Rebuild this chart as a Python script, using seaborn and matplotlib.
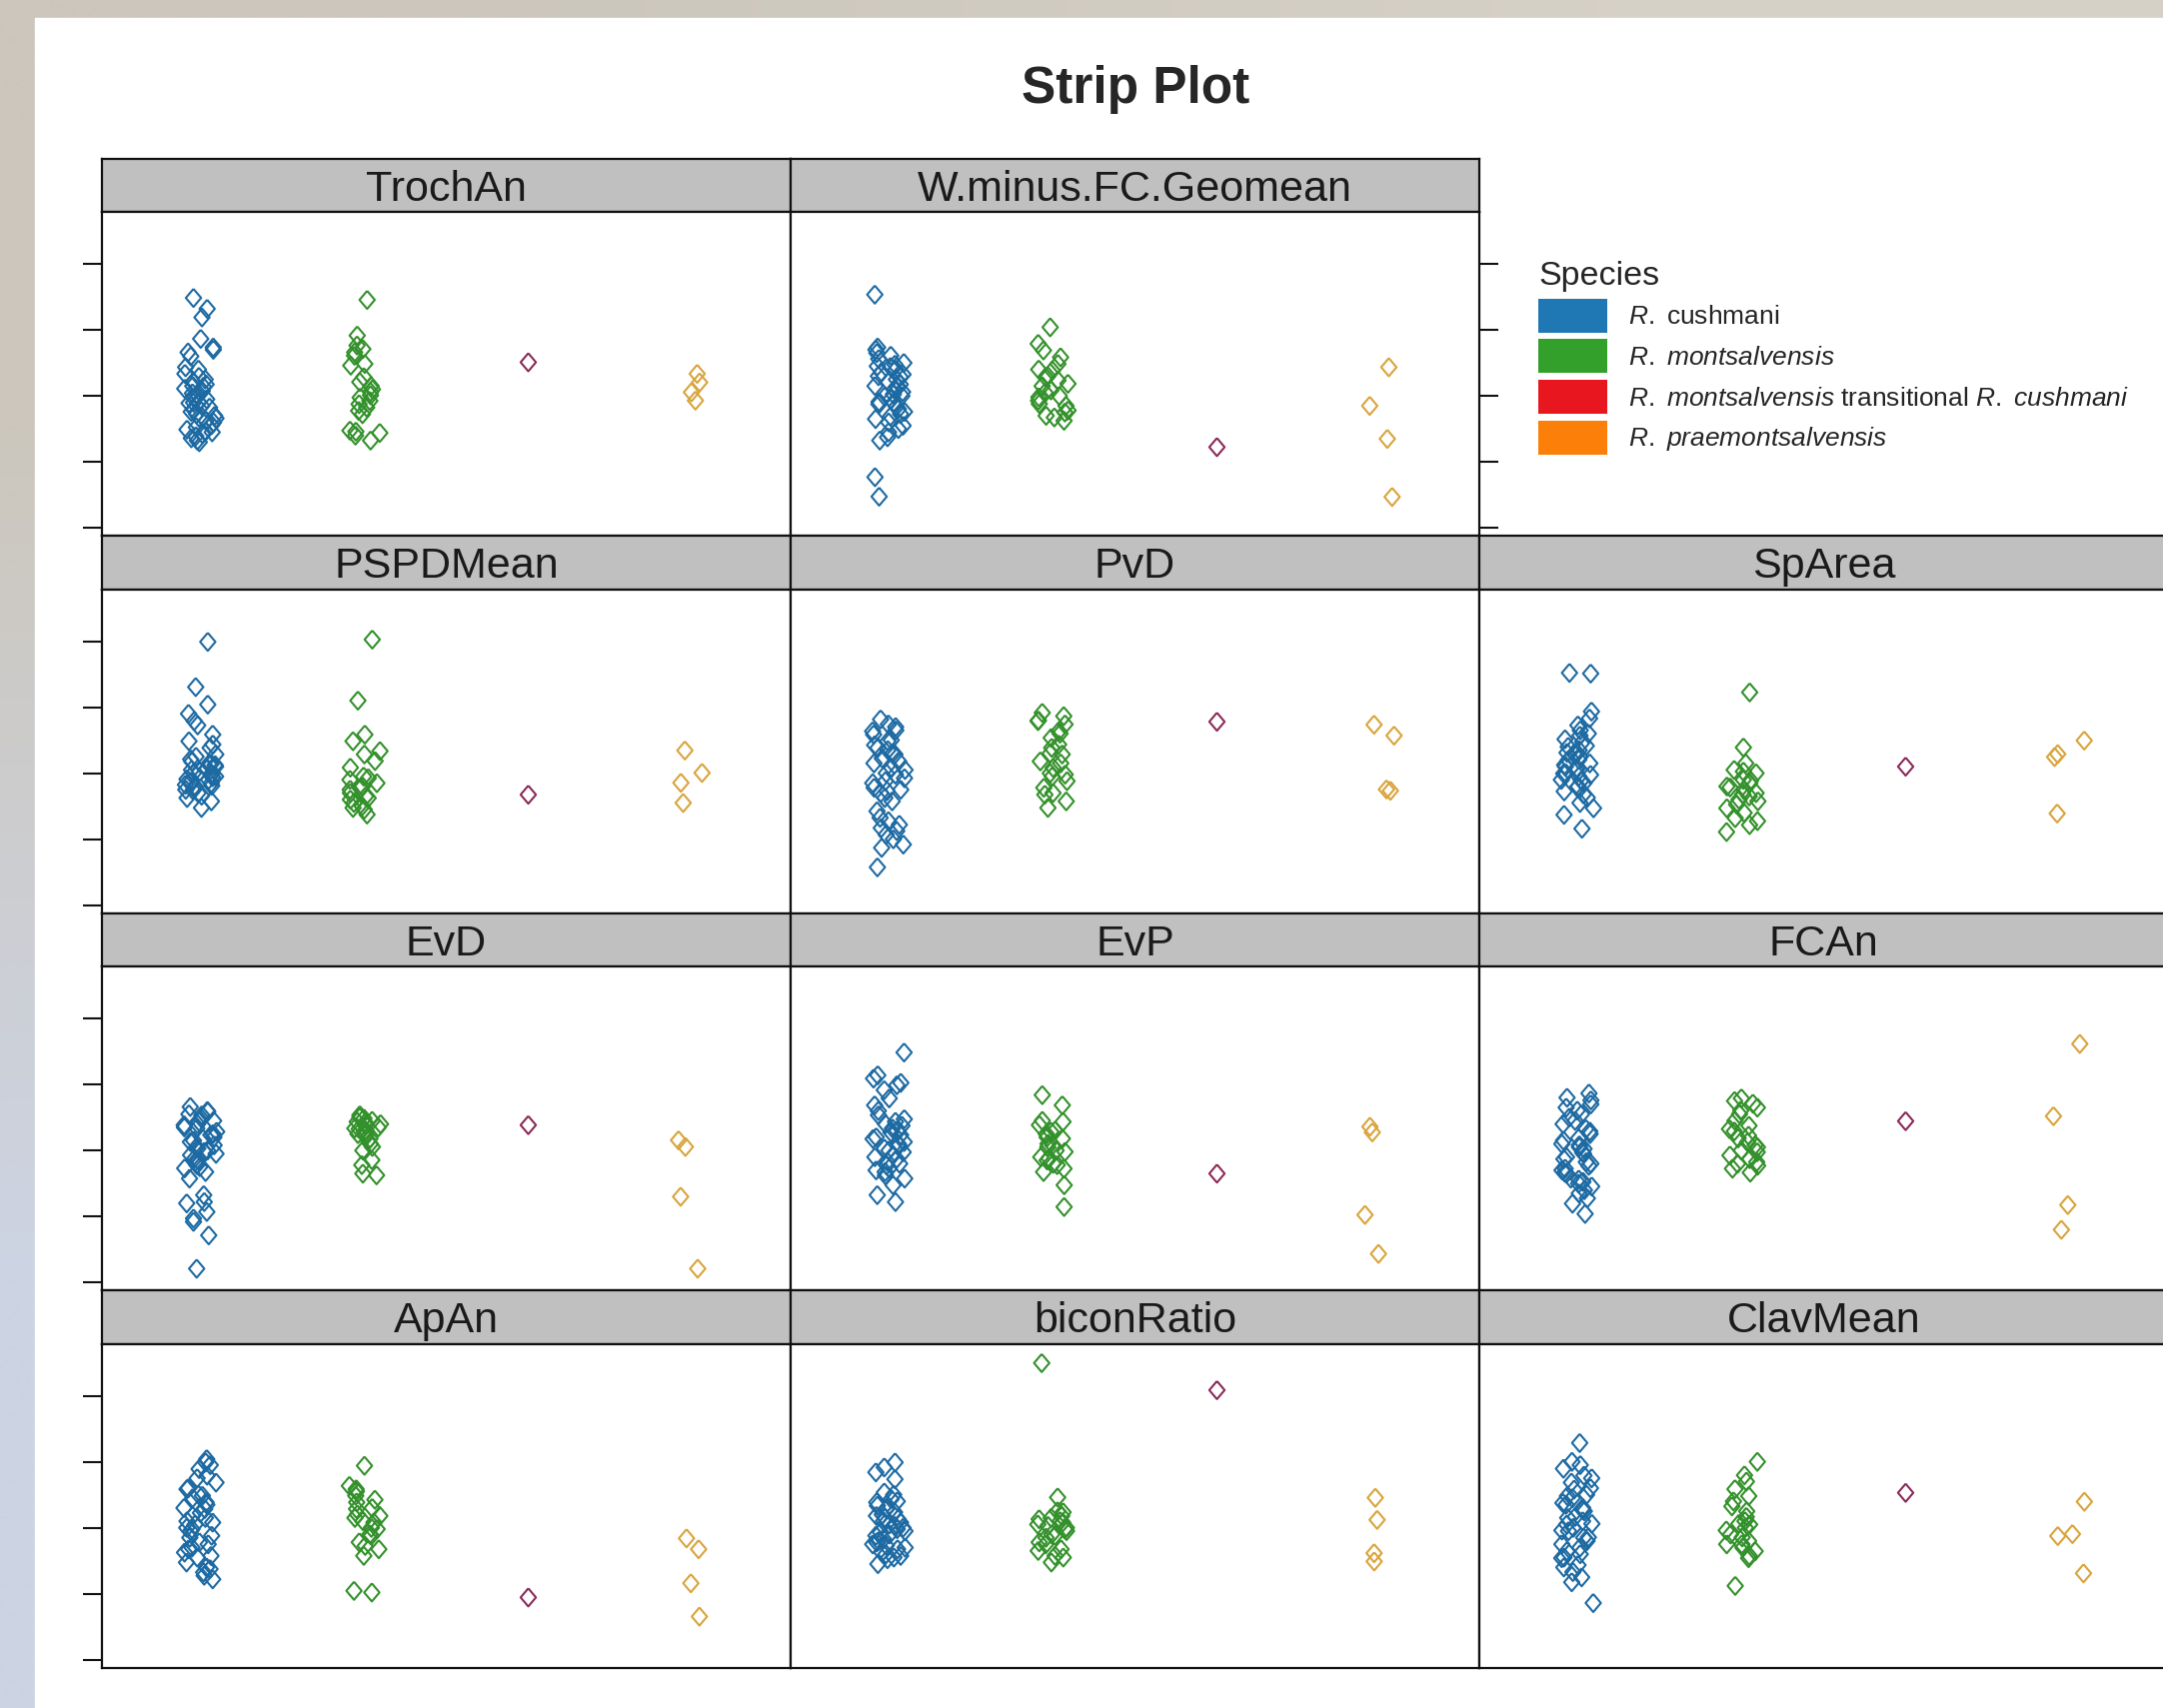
import numpy as np
import pandas as pd
import matplotlib
matplotlib.use("Agg")
import matplotlib.pyplot as plt
from matplotlib.patches import Patch, Rectangle
import seaborn as sns

# species (x groups) and legend text
species = ["R. cushmani", "R. montsalvensis",
           "R. montsalvensis transitional R. cushmani", "R. praemontsalvensis"]
legend_labels = [r"$\mathit{R.}$ cushmani",
                 r"$\mathit{R.\ montsalvensis}$",
                 r"$\mathit{R.\ montsalvensis}$ transitional $\mathit{R.\ cushmani}$",
                 r"$\mathit{R.\ praemontsalvensis}$"]

# panel layout (top to bottom, like the lattice output)
layout = [["TrochAn", "W.minus.FC.Geomean", None],
          ["PSPDMean", "PvD", "SpArea"],
          ["EvD", "EvP", "FCAn"],
          ["ApAn", "biconRatio", "ClavMean"]]

# values (standardised units)
trochan_cush = [2.38, 2.64, 2.97, 1.73, 1.47, 1.40, 1.32, 1.20, 0.87, 0.80, 0.67, 0.58, 0.50,
                0.42, 0.35, 0.28, 0.22, 0.15, 0.08, 0.02, -0.05, -0.10, -0.18, -0.22, -0.30,
                -0.35, -0.42, -0.48, -0.55, -0.60, -0.68, -0.75, -0.80, -0.88, -0.95, -1.02,
                -1.08, -1.15, -1.22, -1.28, -1.35, -1.40, 0.30, -0.20, -0.65, -1.10]
trochan_mont = [2.91, 1.83, 1.53, 1.42, 1.32, 1.22, 0.97, 0.92, 0.57, 0.42, 0.30, 0.20, 0.12,
                0.02, -0.05, -0.15, -0.25, -0.35, -0.45, -0.55, -1.05, -1.08, -1.12, -1.20, -1.35]
trochan_trans = [1.02]
trochan_prae = [0.67, 0.41, 0.11, -0.14]

wminus_cush = [3.07, -2.46, -3.05, 1.47, 1.40, 1.30, 1.22, 1.12, 1.00, 0.95, 0.88, 0.80, 0.72,
               0.65, 0.58, 0.50, 0.42, 0.35, 0.28, 0.20, 0.12, 0.05, -0.02, -0.10, -0.18, -0.25,
               -0.32, -0.40, -0.48, -0.55, -0.62, -0.70, -0.80, -0.90, -1.00, -1.10, -1.25,
               -1.35, 0.60, 0.30, 0.00, -0.20, 0.90]
wminus_mont = [2.08, 1.58, 1.38, 1.17, 0.97, 0.77, 0.57, 0.47, 0.37, 0.17, -0.04, -0.14, -0.24,
               -0.44, -0.65, -0.75, 0.30, 0.10, 0.00, -0.30, 0.60, 0.80, -0.50, -0.60]
wminus_trans = [-1.55]
wminus_prae = [0.87, -0.30, -1.30, -3.06]

pspd_cush = [3.98, 2.61, 2.08, 1.80, 1.58, 1.45, 1.17, 0.97, 0.87, 0.77, 0.57, 0.50, 0.42, 0.35,
             0.28, 0.20, 0.12, 0.05, 0.00, -0.05, -0.12, -0.18, -0.25, -0.30, -0.38, -0.45,
             -0.52, -0.60, -0.68, -0.75, -0.85, -1.05, 0.30, 0.10, -0.10, -0.20, -0.40, 0.25,
             0.15, -0.02, -0.35, -0.50]
pspd_mont = [4.05, 2.20, 1.17, 0.97, 0.67, 0.57, 0.37, 0.17, -0.10, -0.20, -0.30, -0.40, -0.50,
             -0.60, -0.70, -0.80, -0.90, -1.00, -1.10, -1.25, -0.15, -0.45, -0.75, -1.05]
pspd_trans = [-0.65]
pspd_prae = [0.69, 0.01, -0.29, -0.90]

pvd_cush = [1.63, 1.48, 1.27, 1.17, 0.97, 0.77, 0.57, 0.36, 0.16, -0.04, -0.24, -0.44, -0.54,
            -0.75, -0.85, -1.15, -1.35, -1.56, -1.66, -1.86, -2.16, -2.26, -2.85, 1.40, 1.00,
            0.60, 0.30, 0.00, -0.30, -0.60, 1.30, 0.85, 0.45, 0.10, -0.15, -1.45, -1.75, -2.00,
            0.70, -0.50]
pvd_mont = [1.83, 1.73, 1.58, 1.48, 1.27, 1.07, 0.87, 0.77, 0.57, 0.36, 0.16, -0.04, -0.24,
            -0.44, -0.65, -0.85, -1.05, 1.60, 1.20, 0.60, 0.30, -0.10, -0.60, 0.00]
pvd_trans = [1.56]
pvd_prae = [1.47, 1.14, -0.49, -0.53]

sparea_cush = [3.02, 3.04, 1.87, 1.66, 1.45, 1.14, 1.03, 0.83, 0.62, 0.41, 0.20, -0.01, -0.22,
               -0.43, -0.64, -0.74, -1.06, -1.26, -1.68, 1.30, 0.95, 0.70, 0.50, 0.30, 0.10,
               -0.10, -0.30, -0.55, 0.55, 0.25, 0.00, -0.20, 0.80, 0.40, -0.40, -0.90, 1.20,
               0.15, -0.05, 0.60]
sparea_mont = [2.45, 0.78, 0.30, 0.10, 0.00, -0.22, -0.43, -0.64, -0.85, -1.06, -1.36, -1.57,
               -1.78, -0.30, -0.50, -0.70, -0.20, -0.60, -0.95, -1.20, -0.40, 0.05, -0.80, -1.45]
sparea_trans = [0.20]
sparea_prae = [0.99, 0.58, 0.49, -1.22]

evd_cush = [1.32, 1.17, 1.07, 0.97, 0.87, 0.77, 0.67, 0.57, 0.47, 0.36, 0.26, 0.16, 0.06, -0.04,
            -0.14, -0.24, -0.34, -0.44, -0.54, -0.65, -0.85, -1.35, -1.56, -1.86, -2.06, -2.16,
            -2.57, -3.58, 1.10, 0.90, 0.70, 0.50, 0.30, 0.10, -0.10, -0.30, 1.20, 0.80, 0.40,
            0.00, -0.50, -1.60]
evd_mont = [1.07, 0.97, 0.87, 0.77, 0.67, 0.57, 0.47, 0.36, 0.11, -0.29, -0.44, -0.70, -0.75,
            1.00, 0.90, 0.80, 0.70, 0.60, 0.50, 0.30, 0.20, 0.85, 0.65, 0.00]
evd_trans = [0.77]
evd_prae = [0.31, 0.11, -1.40, -3.58]

evp_cush = [2.97, 2.28, 2.18, 1.98, 1.83, 1.58, 1.37, 1.07, 0.87, 0.67, 0.47, 0.26, 0.06, -0.14,
            -0.34, -0.54, -0.75, -0.85, -1.05, -1.35, -1.56, 0.95, 0.75, 0.55, 0.35, 0.15,
            -0.05, -0.25, -0.45, -0.65, 0.60, 0.40, 0.20, 0.00, -0.20, -0.40, 0.80, -0.60,
            1.20, 2.05]
evp_mont = [1.68, 1.37, 0.87, 0.77, 0.57, 0.36, 0.16, -0.04, -0.24, -0.44, -0.65, -1.05, -1.71,
            0.60, 0.40, 0.20, 0.00, -0.20, -0.40, 0.50, 0.10, -0.30, -0.55, 0.90]
evp_trans = [-0.70]
evp_prae = [0.55, 0.72, -1.95, -3.13]

fcan_cush = [1.73, 1.52, 1.21, 0.90, 0.58, 0.37, 0.16, -0.05, -0.26, -0.46, -0.67, -0.88, -1.09,
             -1.30, -1.61, -1.92, 1.40, 1.10, 0.80, 0.50, 0.20, -0.10, -0.40, -0.70, -1.00,
             -1.20, 1.60, 1.00, 0.30, -0.20, -0.55, -0.85, 0.65, 0.05, -0.35, -0.95, -1.45,
             1.30, 0.10, -0.60]
fcan_mont = [1.58, 1.42, 1.21, 0.90, 0.58, 0.37, 0.16, -0.05, -0.26, -0.46, -0.67, 1.50, 1.10,
             0.75, 0.45, 0.25, 0.00, -0.15, -0.35, -0.55, 1.30, 0.65, 0.10, -0.40]
fcan_trans = [0.89]
fcan_prae = [3.23, 1.04, -1.65, -2.40]

apan_cush = [2.08, 1.98, 1.78, 1.58, 1.37, 1.17, 0.97, 0.77, 0.57, 0.36, 0.16, -0.04, -0.24,
             -0.44, -0.65, -0.85, -1.05, -1.25, -1.35, -1.56, 1.90, 1.50, 1.20, 0.90, 0.60,
             0.30, 0.00, -0.30, -0.60, -0.90, -1.20, 1.00, 0.45, 0.20, 0.10, -0.10, -0.50,
             -0.75, -1.45, 0.70]
apan_mont = [1.88, 1.27, 1.17, 0.97, 0.77, 0.57, 0.36, 0.16, -0.04, -0.24, -0.44, -0.65, -0.85,
             -1.91, -1.96, 1.10, 0.85, 0.60, 0.40, 0.20, 0.00, -0.20, -0.55, 0.30]
apan_trans = [-2.11]
apan_prae = [-0.32, -0.65, -1.68, -2.69]

bicon_cush = [1.98, 1.83, 1.68, 1.47, 1.07, 0.87, 0.77, 0.67, 0.57, 0.47, 0.36, 0.26, 0.16,
              0.06, -0.04, -0.14, -0.24, -0.34, -0.44, -0.54, -0.65, -0.75, -0.85, -0.95,
              -1.10, 1.00, 0.60, 0.20, -0.20, -0.60, 0.80, 0.40, 0.00, -0.40, -0.80, 0.30,
              -0.10, -0.50, -0.90, 0.10]
bicon_mont = [4.99, 0.92, 0.47, 0.36, 0.26, 0.16, 0.06, -0.04, -0.24, -0.44, -0.65, -0.85,
              -1.05, 0.50, 0.30, 0.10, -0.10, -0.30, -0.50, -0.70, 0.20, 0.00, -0.20, -0.90]
bicon_trans = [4.17]
bicon_prae = [0.91, 0.24, -0.77, -1.02]

clav_cush = [2.57, 2.00, 1.79, 1.58, 1.37, 1.16, 0.96, 0.75, 0.54, 0.33, 0.12, -0.08, -0.29,
             -0.50, -0.71, -0.92, -1.13, -1.34, -1.65, -2.28, 1.90, 1.50, 1.20, 0.90, 0.60,
             0.30, 0.00, -0.30, -0.60, -0.90, -1.20, 1.00, 0.50, 0.20, -0.10, -0.40, -0.80,
             0.70, 0.10, -1.50]
clav_mont = [2.00, 1.59, 1.17, 0.96, 0.65, 0.33, 0.12, -0.08, -0.29, -0.50, -0.71, -0.92, -1.76,
             1.40, 0.80, 0.50, 0.20, 0.00, -0.20, -0.40, -0.60, 0.10, -0.50, -0.85]
clav_trans = [1.06]
clav_prae = [0.79, -0.19, -0.25, -1.38]

groups = {
    "TrochAn": (trochan_cush, trochan_mont, trochan_trans, trochan_prae),
    "W.minus.FC.Geomean": (wminus_cush, wminus_mont, wminus_trans, wminus_prae),
    "PSPDMean": (pspd_cush, pspd_mont, pspd_trans, pspd_prae),
    "PvD": (pvd_cush, pvd_mont, pvd_trans, pvd_prae),
    "SpArea": (sparea_cush, sparea_mont, sparea_trans, sparea_prae),
    "EvD": (evd_cush, evd_mont, evd_trans, evd_prae),
    "EvP": (evp_cush, evp_mont, evp_trans, evp_prae),
    "FCAn": (fcan_cush, fcan_mont, fcan_trans, fcan_prae),
    "ApAn": (apan_cush, apan_mont, apan_trans, apan_prae),
    "biconRatio": (bicon_cush, bicon_mont, bicon_trans, bicon_prae),
    "ClavMean": (clav_cush, clav_mont, clav_trans, clav_prae),
}

rows = []
for m, vals in groups.items():
    for sp, vv in zip(species, vals):
        for v in vv:
            rows.append((m, sp, v))
df = pd.DataFrame(rows, columns=["measure", "species", "value"])

point_colors = dict(zip(species, ["#1d6aa3", "#33912b", "#8c2a58", "#d9a43c"]))
legend_colors = ["#1f78b4", "#33a02c", "#e8171f", "#fb7f08"]
# open diamond, a touch taller than wide (like lattice pch = 5)
diamond = [(0, 1), (0.85, 0), (0, -1), (-0.85, 0), (0, 1)]

sns.set_style("white")
plt.rcParams["font.family"] = ["Liberation Sans", "DejaVu Sans"]
plt.rcParams["mathtext.fontset"] = "custom"
plt.rcParams["mathtext.it"] = "Liberation Sans:italic"
plt.rcParams["mathtext.rm"] = "Liberation Sans"

W, H = 2164, 1709
fig = plt.figure(figsize=(W / 100, H / 100), dpi=100)


def px_rect(x, y, w, h):
    return [x / W, 1 - (y + h) / H, w / W, h / H]


# photo-ish backdrop with white page on top
bg = fig.add_axes([0, 0, 1, 1], zorder=-10)
bg.imshow(np.array([[[0.80, 0.78, 0.74], [0.84, 0.82, 0.78]],
                    [[0.80, 0.83, 0.89], [0.86, 0.87, 0.89]]]),
          aspect="auto", interpolation="bilinear", extent=[0, W, H, 0])
bg.add_patch(Rectangle((35, 18), W - 35, H - 18, color="white"))
bg.set_xlim(0, W)
bg.set_ylim(H, 0)
bg.axis("off")

fig.text(1136 / W, 1 - 90 / H, "Strip Plot", fontsize=37, fontweight="bold",
         ha="center", va="center")

np.random.seed(3)
x0, colw = 102, 689
top0, strip_h, panel_h = 158.7, 53.5, 324.0
for r, row in enumerate(layout):
    st = top0 + r * (strip_h + panel_h)
    for c, m in enumerate(row):
        if m is None:
            continue
        xl = x0 + c * colw
        sax = fig.add_axes(px_rect(xl, st, colw, strip_h))
        sax.set_facecolor("#c0c0c0")
        sax.set_xticks([])
        sax.set_yticks([])
        for s in sax.spines.values():
            s.set_linewidth(1.6)
            s.set_color("#111111")
        sax.text(0.5, 0.42, m, transform=sax.transAxes, ha="center", va="center",
                 fontsize=31, color="#1a1a1a")

        ax = fig.add_axes(px_rect(xl, st + strip_h, colw, panel_h))
        sns.stripplot(data=df[df["measure"] == m], x="species", y="value", hue="species",
                      order=species, hue_order=species, palette=point_colors, marker=diamond,
                      size=13, linewidth=1.5, jitter=0.1, legend=False, ax=ax)
        for coll in ax.collections:
            coll.set_edgecolors(coll.get_facecolors())
            coll.set_facecolors("none")
        ax.set_xlim(-0.6, 3.6)
        ax.set_ylim(-4.24, 5.57)
        ax.set_xticks([])
        ax.set_yticks([-4, -2, 0, 2, 4])
        ax.set_xlabel("")
        ax.set_ylabel("")
        for s in ax.spines.values():
            s.set_linewidth(1.6)
            s.set_color("#111111")
        ax.tick_params(axis="y", direction="out", length=13.5, width=1.5,
                       left=(c == 0), right=(r == 0 and c == 1),
                       labelleft=False, labelright=False, color="#111111")

handles = [Patch(facecolor=col, edgecolor="none") for col in legend_colors]
fig.legend(handles, legend_labels, loc="upper left", bbox_to_anchor=(1539 / W, 1 - 261 / H),
           frameon=False, title="Species", title_fontsize=24.5, fontsize=19,
           handlelength=2.6, handleheight=1.61, handletextpad=0.8, labelspacing=0.25,
           borderpad=0, borderaxespad=0, alignment="left")

fig.savefig("out.png", dpi=100)
